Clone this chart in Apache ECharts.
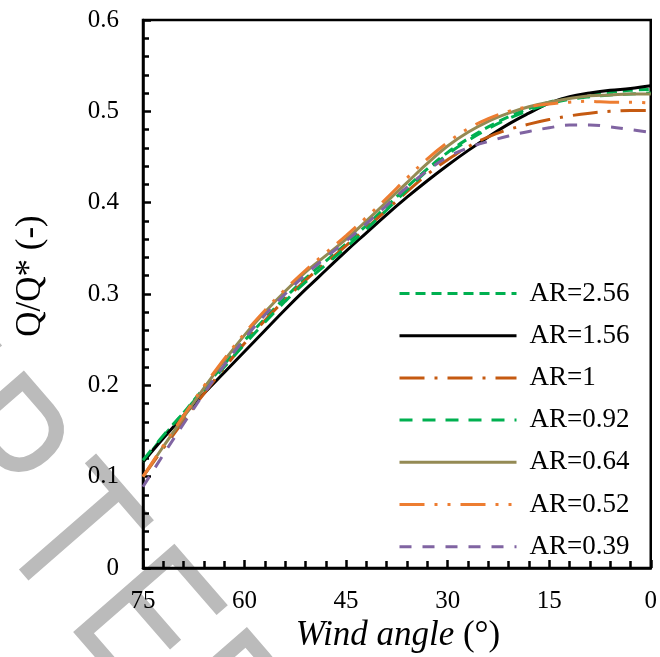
<!DOCTYPE html>
<html>
<head>
<meta charset="utf-8">
<script src="https://cdn.jsdelivr.net/npm/echarts@6/dist/echarts.min.js"></script>
<style>
  html, body { margin: 0; padding: 0; background: #fff; }
  #chart { width: 660px; height: 657px; }
</style>
</head>
<body>
<div id="chart"></div>
<script>
// Wind angle (degrees), plotted from 75 down to 0
const windAngles = [75, 72, 69, 66, 63, 60, 57, 54, 51, 48, 45, 42, 39, 36, 33, 30, 27, 24, 21, 18, 15, 12, 9, 6, 3, 0];

// Normalised flow rate Q/Q* for each aspect ratio
const ar256 = [0.116, 0.144, 0.170, 0.197, 0.223, 0.249, 0.273, 0.296, 0.317, 0.336, 0.355, 0.375, 0.396, 0.417, 0.437, 0.455, 0.470, 0.483, 0.494, 0.503, 0.510, 0.515, 0.519, 0.521, 0.523, 0.524];
const ar156 = [0.116, 0.142, 0.167, 0.191, 0.214, 0.237, 0.260, 0.283, 0.305, 0.326, 0.347, 0.367, 0.387, 0.406, 0.424, 0.441, 0.457, 0.472, 0.486, 0.498, 0.509, 0.516, 0.520, 0.523, 0.525, 0.528];
const ar100 = [0.100, 0.131, 0.161, 0.191, 0.219, 0.246, 0.271, 0.294, 0.315, 0.334, 0.353, 0.372, 0.392, 0.412, 0.431, 0.447, 0.461, 0.472, 0.480, 0.486, 0.491, 0.495, 0.498, 0.500, 0.501, 0.501];
const ar092 = [0.118, 0.145, 0.170, 0.195, 0.220, 0.245, 0.269, 0.292, 0.313, 0.332, 0.351, 0.371, 0.392, 0.414, 0.435, 0.453, 0.468, 0.481, 0.492, 0.501, 0.508, 0.513, 0.516, 0.518, 0.519, 0.520];
const ar064 = [0.100, 0.133, 0.165, 0.197, 0.227, 0.255, 0.280, 0.303, 0.324, 0.342, 0.360, 0.380, 0.401, 0.422, 0.443, 0.462, 0.477, 0.489, 0.498, 0.505, 0.510, 0.514, 0.517, 0.518, 0.519, 0.519];
const ar052 = [0.100, 0.134, 0.167, 0.199, 0.229, 0.257, 0.282, 0.305, 0.326, 0.345, 0.364, 0.384, 0.405, 0.427, 0.448, 0.466, 0.481, 0.492, 0.500, 0.505, 0.508, 0.510, 0.511, 0.510, 0.510, 0.509];
const ar039 = [0.089, 0.124, 0.158, 0.191, 0.222, 0.251, 0.277, 0.300, 0.321, 0.340, 0.358, 0.377, 0.397, 0.417, 0.435, 0.450, 0.460, 0.467, 0.473, 0.478, 0.482, 0.485, 0.485, 0.483, 0.480, 0.477];

const seriesNames = ['AR=2.56', 'AR=1.56', 'AR=1', 'AR=0.92', 'AR=0.64', 'AR=0.52', 'AR=0.39'];

const serif = 'Liberation Serif, Times New Roman, serif';

function pairs(values) {
  return windAngles.map((a, i) => [a, values[i]]);
}

function lineSeries(name, values, color, dash) {
  return {
    name: name,
    type: 'line',
    data: pairs(values),
    smooth: 0.4,
    showSymbol: false,
    symbol: 'none',
    lineStyle: { color: color, width: 3, type: dash, cap: 'butt' },
    itemStyle: { color: color },
    z: 3
  };
}

// Diagonal grey "ACCEPTED" watermark, laid out letter by letter
const watermarkWord = 'ACCEPTED';
const wmAngle = 49 * Math.PI / 180;   // clockwise tilt of the text
const wmStep = 114.7;                 // distance between letter centres along the text direction
const wmRef = { x: -11, y: 453, index: 4 };   // centre of the 'P'
const wmGraphics = watermarkWord.split('').map((ch, i) => {
  const d = (i - wmRef.index) * wmStep;
  return {
    type: 'text',
    x: wmRef.x + d * Math.cos(wmAngle),
    y: wmRef.y + d * Math.sin(wmAngle),
    rotation: -wmAngle,
    scaleX: 0.8,
    z: -10,
    silent: true,
    style: {
      text: ch,
      fontSize: 195,
      fontFamily: 'Liberation Sans, Arial, sans-serif',
      fill: '#bbbbbb',
      align: 'center',
      verticalAlign: 'middle'
    }
  };
});

const tickStyle = { color: '#000', width: 2.5 };

const chart = echarts.init(document.getElementById('chart'), null, { renderer: 'canvas' });

chart.setOption({
  animation: false,
  backgroundColor: '#ffffff',
  grid: {
    left: 143, right: 5, top: 20, bottom: 89,
    show: true,
    borderColor: '#000',
    borderWidth: 2.5,
    backgroundColor: 'transparent'
  },
  legend: {
    data: seriesNames,
    orient: 'vertical',
    left: 393,
    top: 275,
    itemWidth: 117,
    itemHeight: 14,
    itemGap: 15.2,
    itemStyle: { opacity: 0 },
    lineStyle: { width: 3 },
    textStyle: {
      fontFamily: serif,
      fontSize: 27,
      color: '#000',
      padding: [0, 0, 0, 8]
    }
  },
  xAxis: {
    type: 'value',
    inverse: true,
    min: 0,
    max: 75,
    interval: 15,
    axisLine: { show: true, onZero: false, lineStyle: { color: '#000', width: 2.5 } },
    axisTick: { show: true, inside: true, length: 8, lineStyle: tickStyle },
    minorTick: { show: true, splitNumber: 5, length: 7, lineStyle: tickStyle },
    splitLine: { show: false },
    minorSplitLine: { show: false },
    axisLabel: { fontFamily: serif, fontSize: 25, color: '#000', margin: 21 }
  },
  yAxis: {
    type: 'value',
    min: 0,
    max: 0.6,
    interval: 0.1,
    axisLine: { show: true, onZero: false, lineStyle: { color: '#000', width: 2.5 } },
    axisTick: { show: true, inside: true, length: 8, lineStyle: tickStyle },
    minorTick: { show: true, splitNumber: 5, length: 6, lineStyle: tickStyle },
    splitLine: { show: false },
    minorSplitLine: { show: false },
    axisLabel: { fontFamily: serif, fontSize: 25, color: '#000', margin: 24 }
  },
  graphic: wmGraphics.concat([
    {
      type: 'text',
      x: 31,
      y: 276,
      rotation: Math.PI / 2,
      style: {
        text: 'Q/Q* (-)',
        fontFamily: serif,
        fontSize: 35,
        fill: '#000',
        align: 'center',
        verticalAlign: 'middle'
      }
    },
    {
      type: 'text',
      x: 398,
      y: 636,
      style: {
        text: '{i|Wind angle} (°)',
        fontFamily: serif,
        fontSize: 35,
        fill: '#000',
        align: 'center',
        verticalAlign: 'middle',
        rich: {
          i: { fontFamily: serif, fontSize: 35, fontStyle: 'italic', fill: '#000' }
        }
      }
    }
  ]),
  series: [
    lineSeries('AR=2.56', ar256, '#00b050', [10, 6]),
    lineSeries('AR=1.56', ar156, '#000000', 'solid'),
    lineSeries('AR=1', ar100, '#c55a11', [25, 10, 3, 10]),
    lineSeries('AR=0.92', ar092, '#00b050', [13, 10]),
    lineSeries('AR=0.64', ar064, '#948a54', 'solid'),
    lineSeries('AR=0.52', ar052, '#ed7d31', [25, 10, 3, 10, 3, 10]),
    lineSeries('AR=0.39', ar039, '#8064a2', [12, 11])
  ]
});
</script>
</body>
</html>
